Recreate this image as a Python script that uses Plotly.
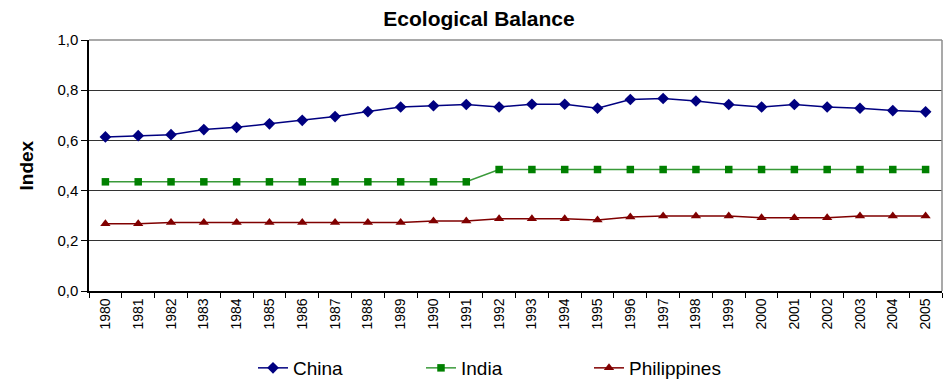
import plotly.graph_objects as go

years = [str(y) for y in range(1980, 2006)]

china = [0.614, 0.619, 0.623, 0.643, 0.652, 0.666, 0.680, 0.695, 0.715, 0.733,
         0.738, 0.743, 0.733, 0.744, 0.744, 0.728, 0.763, 0.767, 0.757, 0.743,
         0.733, 0.743, 0.733, 0.728, 0.719, 0.714]

india = [0.435] * 12 + [0.484] * 14

philippines = [0.268, 0.268, 0.273, 0.273, 0.273, 0.273, 0.273, 0.273, 0.273, 0.273,
               0.279, 0.279, 0.288, 0.288, 0.288, 0.283, 0.295, 0.299, 0.299, 0.299,
               0.292, 0.292, 0.292, 0.299, 0.299, 0.299]

y_ticks = [0.0, 0.2, 0.4, 0.6, 0.8, 1.0]

FONT = "Liberation Sans, Arial, sans-serif"

fig = go.Figure()

fig.add_trace(go.Scatter(
    x=years, y=china, name="China", mode="lines+markers",
    line=dict(color="#000080", width=1.5),
    marker=dict(symbol="diamond", size=9, color="#000080"),
))
fig.add_trace(go.Scatter(
    x=years, y=india, name="India", mode="lines+markers",
    line=dict(color="#3a9a3a", width=1.5),
    marker=dict(symbol="square", size=7.5, color="#008000"),
))
fig.add_trace(go.Scatter(
    x=years, y=philippines, name="Philippines", mode="lines+markers",
    line=dict(color="#800000", width=1.5),
    marker=dict(symbol="triangle-up", size=9, color="#800000"),
))

fig.update_layout(
    width=948, height=380,
    margin=dict(l=89, r=6, t=40, b=89, autoexpand=False),
    paper_bgcolor="white", plot_bgcolor="white",
    separators=",.",
    font=dict(family=FONT, size=14, color="black"),
    title=dict(
        text="<b>Ecological Balance</b>",
        font=dict(family=FONT, size=21, color="black"),
        xref="container", x=479 / 948, xanchor="center",
        yref="container", y=1 - 19 / 380, yanchor="middle",
    ),
    showlegend=True,
    legend=dict(
        orientation="h",
        xref="paper", x=(253 - 89) / 853, xanchor="left",
        yref="container", y=1 - 368 / 380, yanchor="middle",
        font=dict(family=FONT, size=19, color="black"),
        entrywidth=123,
        bgcolor="rgba(0,0,0,0)",
    ),
    annotations=[dict(
        text="<b>Index</b>", textangle=-90,
        xref="paper", x=(26 - 89) / 853, xanchor="center",
        yref="paper", y=0.5, yanchor="middle",
        showarrow=False,
        font=dict(family=FONT, size=19, color="black"),
    )],
)

fig.update_xaxes(
    type="category",
    range=[-0.5, 25.5],
    automargin=False,
    tickangle=-90,
    tickson="boundaries",
    ticks="outside", ticklen=5, tickcolor="black", tickwidth=1,
    showline=True, linecolor="black", linewidth=1.5,
    mirror=False,
    showgrid=False,
    tickfont=dict(family=FONT, size=14, color="black"),
)

fig.update_yaxes(
    range=[0, 1.0],
    automargin=False,
    tickvals=y_ticks,
    tickformat=".1f",
    ticks="outside", ticklen=6, tickcolor="black", tickwidth=1,
    showline=True, linecolor="black", linewidth=1.5,
    showgrid=True, gridcolor="#333333", gridwidth=1,
    zeroline=False,
    tickfont=dict(family=FONT, size=15, color="black"),
)

# Plot-area border on the top and right edges
fig.add_shape(type="line", xref="paper", yref="paper", x0=0, x1=1, y0=1, y1=1,
              line=dict(color="#8c8c8c", width=1.5), layer="above")
fig.add_shape(type="line", xref="paper", yref="paper", x0=1, x1=1, y0=0, y1=1,
              line=dict(color="#8c8c8c", width=1.5), layer="above")

fig.write_html("out.html")
